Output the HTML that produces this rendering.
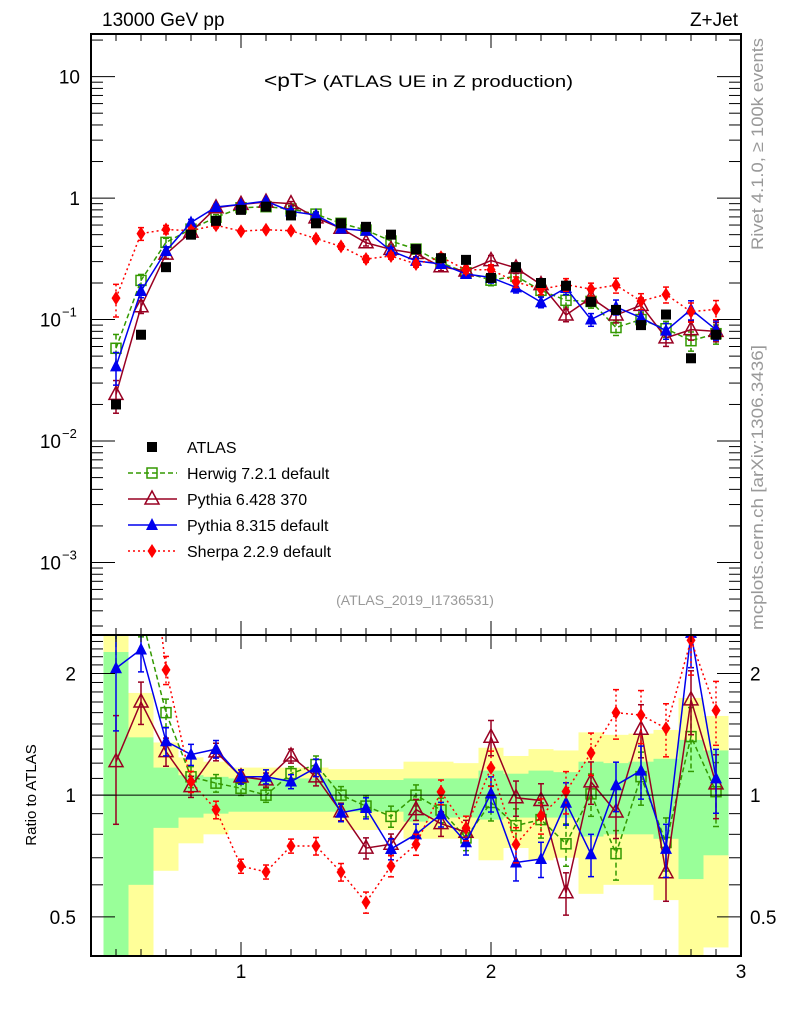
<!DOCTYPE html>
<html><head><meta charset="utf-8"><style>
html,body{margin:0;padding:0;background:#fff;}
svg{display:block;font-family:"Liberation Sans",sans-serif;}
</style></head><body>
<svg id="chart" width="786" height="1024" xmlns="http://www.w3.org/2000/svg">
<defs>
<clipPath id="clipMain"><rect x="91" y="34" width="650" height="601"/></clipPath>
<clipPath id="clipRatio"><rect x="91" y="635" width="650" height="321"/></clipPath>
</defs>
<g id="bands" clip-path="url(#clipRatio)"></g>
<g id="grid"></g>
<g id="mainSeries" clip-path="url(#clipMain)"></g>
<g id="ratioSeries" clip-path="url(#clipRatio)"></g>
<g id="axes"></g>
<text x="102" y="26" font-size="19">13000 GeV pp</text>
<text x="738" y="26" font-size="19" text-anchor="end">Z+Jet</text>
<text x="264" y="87" font-size="17" textLength="309" lengthAdjust="spacingAndGlyphs"><tspan font-size="19">&lt;pT&gt;</tspan> (ATLAS UE in Z production)</text>
<text x="415" y="605" font-size="14" fill="#999" text-anchor="middle">(ATLAS_2019_I1736531)</text>
<text transform="translate(763,250) rotate(-90)" font-size="17" fill="#999" textLength="212" lengthAdjust="spacingAndGlyphs">Rivet 4.1.0, ≥ 100k events</text>
<text transform="translate(763,630) rotate(-90)" font-size="17" fill="#999" textLength="285" lengthAdjust="spacingAndGlyphs">mcplots.cern.ch [arXiv:1306.3436]</text>
<text transform="translate(36,795) rotate(-90)" font-size="15" text-anchor="middle">Ratio to ATLAS</text>
<g id="legend"></g>
</svg>
<script>
const xs = [0.5,0.6,0.7,0.8,0.9,1.0,1.1,1.2,1.3,1.4,1.5,1.6,1.7,1.8,1.9,2.0,2.1,2.2,2.3,2.4,2.5,2.6,2.7,2.8,2.9];
const atlas = [0.02,0.075,0.27,0.5,0.65,0.8,0.85,0.72,0.62,0.62,0.58,0.5,0.38,0.32,0.31,0.22,0.27,0.2,0.19,0.14,0.12,0.09,0.11,0.048,0.075];
const herwig = [0.058,0.21,0.432,0.555,0.696,0.832,0.85,0.814,0.738,0.62,0.545,0.443,0.38,0.294,0.243,0.211,0.227,0.174,0.144,0.141,0.086,0.1,0.084,0.067,0.0765];
const pythia6 = [0.0242,0.1275,0.346,0.525,0.832,0.888,0.927,0.9,0.688,0.564,0.429,0.378,0.35,0.272,0.251,0.306,0.266,0.194,0.109,0.151,0.109,0.131,0.0707,0.0826,0.08];
const pythia8 = [0.0412,0.172,0.367,0.63,0.845,0.888,0.944,0.778,0.725,0.561,0.539,0.368,0.304,0.287,0.237,0.222,0.184,0.139,0.182,0.1,0.127,0.1035,0.081,0.121,0.0825];
const sherpa = [0.15,0.51,0.551,0.54,0.598,0.534,0.549,0.539,0.464,0.4,0.315,0.334,0.287,0.326,0.257,0.257,0.204,0.178,0.194,0.178,0.192,0.142,0.161,0.116,0.1215];
const mcRelErr = [0.3,0.12,0.08,0.06,0.05,0.04,0.04,0.04,0.05,0.05,0.06,0.06,0.06,0.07,0.07,0.1,0.1,0.1,0.12,0.12,0.14,0.15,0.15,0.18,0.18];
const statLo = [0.3,0.6,0.83,0.88,0.9,0.91,0.91,0.91,0.91,0.91,0.91,0.91,0.86,0.88,0.88,0.87,0.88,0.88,0.88,0.79,0.8,0.8,0.78,0.62,0.71];
const statHi = [2.26,1.39,1.17,1.12,1.11,1.1,1.1,1.1,1.1,1.09,1.09,1.09,1.1,1.1,1.1,1.15,1.13,1.15,1.14,1.21,1.2,1.21,1.23,1.37,1.29];
const totLo = [0.3,0.3,0.65,0.76,0.8,0.82,0.82,0.82,0.82,0.82,0.82,0.82,0.78,0.78,0.78,0.69,0.74,0.69,0.7,0.57,0.6,0.6,0.55,0.3,0.42];
const totHi = [2.6,1.79,1.35,1.24,1.21,1.17,1.17,1.17,1.17,1.16,1.16,1.16,1.21,1.21,1.2,1.31,1.25,1.3,1.29,1.43,1.41,1.42,1.45,1.74,1.57];
const xTicks = [1,2,3];
const mainTicks = [1,0,-1,-2,-3];
const ratioTicks = [2,1,0.5];
const ratioTickLabels = ["2","1","0.5"];

const NS="http://www.w3.org/2000/svg";
const L=91,R=741,MT=34,MB=635,RT=635,RB=956;
const X0=0.4,X1=3.0;
const LT=1.351,LB=-3.597;
const RTOP=Math.log2(2.49),RBOT=Math.log2(0.40);
const sx=v=>L+(v-X0)/(X1-X0)*(R-L);
const sy=v=>MT+(LT-Math.log10(v))/(LT-LB)*(MB-MT);
const sr=v=>RT+(RTOP-Math.log2(v))/(RTOP-RBOT)*(RB-RT);
function el(t,a,p){const e=document.createElementNS(NS,t);for(const k in a)e.setAttribute(k,a[k]);(p||document.getElementById('chart')).appendChild(e);return e;}

const bandG=document.getElementById('bands');
xs.forEach((x,i)=>{
  const a=sx(x-0.05),b=sx(x+0.05);
  const y1=el('rect',{x:a,y:sr(totHi[i]),width:b-a,height:sr(totLo[i])-sr(totHi[i]),fill:'#ffff99'},bandG);
  
  
  const g1=el('rect',{x:a,y:sr(statHi[i]),width:b-a,height:sr(statLo[i])-sr(statHi[i]),fill:'#99ff99'},bandG);
  
  
});

const ax=document.getElementById('axes');
el('rect',{x:L,y:MT,width:R-L,height:MB-MT,fill:'none',stroke:'#000','stroke-width':2},ax);
el('rect',{x:L,y:RT,width:R-L,height:RB-RT,fill:'none',stroke:'#000','stroke-width':2},ax);
el('line',{x1:L,x2:R,y1:sr(1),y2:sr(1),stroke:'#000','stroke-width':1},ax);
for(let k=4;k<=30;k++){const v=k/10;const X=sx(v);const maj=(k%10===0);const len=maj?14:7;
  [MT,RT].forEach(t=>el('line',{x1:X,x2:X,y1:t,y2:t+len,stroke:'#000','stroke-width':1},ax));
  [MB,RB].forEach(t=>el('line',{x1:X,x2:X,y1:t,y2:t-len,stroke:'#000','stroke-width':1},ax));
}
xTicks.forEach(v=>{const t=el('text',{x:sx(v),y:978,'font-size':19,'text-anchor':'middle'},ax);t.textContent=v;
  
  });
for(let d=-4;d<=1;d++){for(let m=1;m<=9;m++){const v=m*Math.pow(10,d);const Y=sy(v);if(Y<MT||Y>MB)continue;const len=m===1?24:12;
  el('line',{x1:L,x2:L+len,y1:Y,y2:Y,stroke:'#000','stroke-width':1},ax);
  el('line',{x1:R,x2:R-len,y1:Y,y2:Y,stroke:'#000','stroke-width':1},ax);}}
mainTicks.forEach(p=>{const Y=sy(Math.pow(10,p));let t;
  if(p===1){t=el('text',{x:80,y:Y+7,'font-size':19,'text-anchor':'end'},ax);t.textContent='10';}
  else if(p===0){t=el('text',{x:80,y:Y+7,'font-size':19,'text-anchor':'end'},ax);t.textContent='1';}
  else{t=el('text',{x:61,y:Y+7,'font-size':19,'text-anchor':'end'},ax);t.textContent='10';
    const s=el('text',{x:62,y:Y-3,'font-size':13},ax);s.textContent='\u2212'+(-p);
    
    }
  
  });
for(let k=4;k<=25;k++){const v=k/10;if(v>2.49)continue;const Y=sr(v);const maj=(k===5||k===10||k===20);const len=maj?24:12;
  el('line',{x1:L,x2:L+len,y1:Y,y2:Y,stroke:'#000','stroke-width':1},ax);
  el('line',{x1:R,x2:R-len,y1:Y,y2:Y,stroke:'#000','stroke-width':1},ax);}
ratioTicks.forEach((v,i)=>{const Y=sr(v)+7;
  const a=el('text',{x:76,y:Y,'font-size':19,'text-anchor':'end'},ax);a.textContent=ratioTickLabels[i];
  
  
  const b=el('text',{x:750,y:Y,'font-size':19},ax);b.textContent=ratioTickLabels[i];
  
  });

function marker(g,type,cx,cy,color){
  if(type==='sq') return el('rect',{x:cx-5,y:cy-5,width:10,height:10,fill:'#000'},g);
  if(type==='osq') return el('rect',{x:cx-5,y:cy-5,width:10,height:10,fill:'#fff','fill-opacity':0,stroke:color,'stroke-width':1.5},g);
  if(type==='otri') return el('polygon',{points:`${cx},${cy-8} ${cx-7},${cy+5} ${cx+7},${cy+5}`,fill:'none',stroke:color,'stroke-width':1.5},g);
  if(type==='tri') return el('polygon',{points:`${cx},${cy-7} ${cx-6},${cy+5} ${cx+6},${cy+5}`,fill:color},g);
  if(type==='dia') return el('polygon',{points:`${cx},${cy-7} ${cx-4.5},${cy} ${cx},${cy+7} ${cx+4.5},${cy}`,fill:color},g);
}
const series=[
 {name:'herwig',vals:herwig,color:'#339900',dash:'5,3',type:'osq'},
 {name:'pythia6',vals:pythia6,color:'#990022',dash:'',type:'otri'},
 {name:'pythia8',vals:pythia8,color:'#0000ee',dash:'',type:'tri'},
 {name:'sherpa',vals:sherpa,color:'#ff0000',dash:'2,3',type:'dia'}];
const mg=document.getElementById('mainSeries'),rg=document.getElementById('ratioSeries');
series.forEach(s=>{
  [[mg,(v,i)=>sy(v)],[rg,(v,i)=>sr(v/atlas[i])]].forEach(([g,f])=>{
    const gg=el('g',{},g);
    
    
    const pts=s.vals.map((v,i)=>sx(xs[i])+','+f(v,i)).join(' ');
    const pl=el('polyline',{points:pts,fill:'none',stroke:s.color,'stroke-width':1.5,'stroke-dasharray':s.dash},gg);
    
    
    s.vals.forEach((v,i)=>{
      const X=sx(xs[i]);const e=mcRelErr[i];
      const ya=f(v*(1+e),i),yb=f(v*(1-e),i);
      el('line',{x1:X,x2:X,y1:ya,y2:yb,stroke:s.color,'stroke-width':1.5,'stroke-dasharray':s.dash},gg);
      el('line',{x1:X-3,x2:X+3,y1:ya,y2:ya,stroke:s.color,'stroke-width':1.5},gg);
      el('line',{x1:X-3,x2:X+3,y1:yb,y2:yb,stroke:s.color,'stroke-width':1.5},gg);
      const m=marker(gg,s.type,X,f(v,i),s.color);
      
      
    });
  });
});
const ag=el('g',{},mg);


atlas.forEach((v,i)=>{const m=marker(ag,'sq',sx(xs[i]),sy(v));
  
  });

const lg=document.getElementById('legend');
const leg=[['ATLAS',null],['Herwig 7.2.1 default',series[0]],['Pythia 6.428 370',series[1]],['Pythia 8.315 default',series[2]],['Sherpa 2.2.9 default',series[3]]];
leg.forEach((it,i)=>{const Y=447+i*26;
  const g=el('g',{},lg);
  
  
  if(it[1]){el('line',{x1:128,x2:177,y1:Y,y2:Y,stroke:it[1].color,'stroke-width':1.5,'stroke-dasharray':it[1].dash},g);
    marker(g,it[1].type,152,Y,it[1].color);}
  else marker(g,'sq',152,Y);
  const t=el('text',{x:187,y:Y+6,'font-size':16},g);t.textContent=it[0];
});
</script>
</body></html>
